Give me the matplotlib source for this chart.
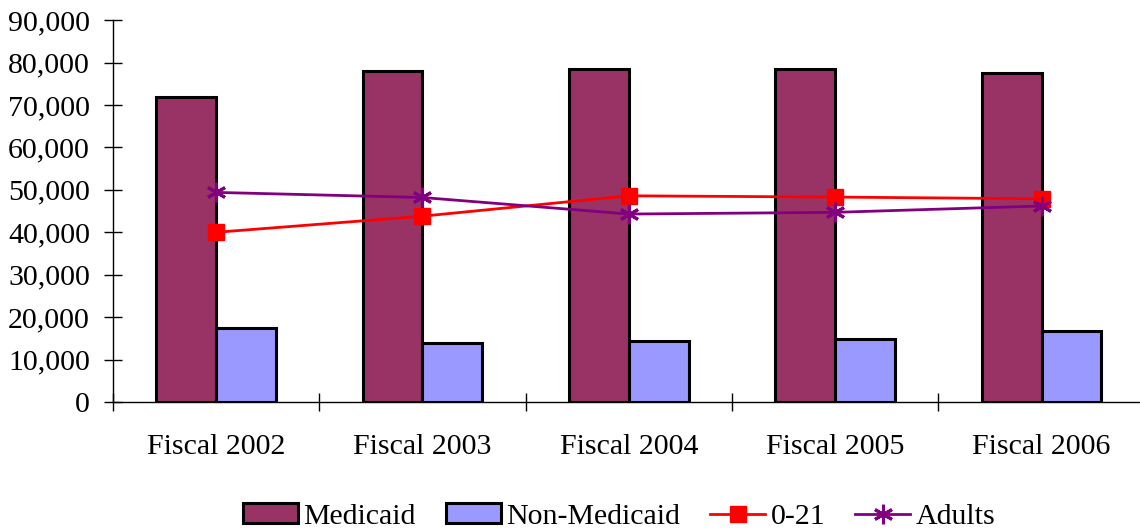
import matplotlib.pyplot as plt
import numpy as np

# enrollment counts by fiscal year
years = ["Fiscal 2002", "Fiscal 2003", "Fiscal 2004", "Fiscal 2005", "Fiscal 2006"]
medicaid = [72000, 78000, 78500, 78400, 77500]
non_medicaid = [17400, 13900, 14400, 14800, 16700]
age_0_21 = [40000, 43800, 48600, 48300, 47900]
adults = [49400, 48200, 44300, 44700, 46200]

plt.rcParams['font.family'] = ['Liberation Serif', 'DejaVu Serif']
plt.rcParams['font.size'] = 21.5

fig = plt.figure(figsize=(11.4, 5.31), dpi=100)
ax = fig.add_axes([0.0991, 0.243, 0.905, 0.719])

x = np.arange(len(years))
w = 0.29
b1 = ax.bar(x - w / 2, medicaid, w, color="#993366", edgecolor="black", linewidth=2.2, label="Medicaid")
b2 = ax.bar(x + w / 2, non_medicaid, w, color="#9999FF", edgecolor="black", linewidth=2.2, label="Non-Medicaid")
l1, = ax.plot(x, age_0_21, color="#FF0000", linewidth=2, marker="s", markersize=11, label="0-21")
l2, = ax.plot(x, adults, color="#800080", linewidth=2, marker=(6, 2, 0), markersize=14,
              markeredgewidth=2.2, label="Adults")

ax.set_xlim(-0.5, 4.5)
ax.set_ylim(0, 90000)
ax.set_yticks(np.arange(0, 90001, 10000))
ax.set_yticklabels([f"{v:,}" for v in range(0, 90001, 10000)])
ax.set_xticks(x)
ax.set_xticklabels(years)
ax.set_xticks(np.arange(-0.5, 4.6, 1), minor=True)

ax.spines['top'].set_visible(False)
ax.spines['right'].set_visible(False)
ax.spines['left'].set_linewidth(1)
ax.spines['bottom'].set_linewidth(1)

ax.tick_params(axis='y', direction='inout', length=13, width=1, pad=10)
ax.tick_params(axis='x', which='major', length=0, pad=23)
ax.tick_params(axis='x', which='minor', direction='inout', length=13, width=1)

fig.legend([b1, b2, l1, l2], ["Medicaid", "Non-Medicaid", "0-21", "Adults"],
           loc="center", bbox_to_anchor=(0.543, 0.027), ncol=4, frameon=False, fontsize=21.5,
           handlelength=1.85, handleheight=0.65, columnspacing=1.0, handletextpad=0.18,
           borderpad=0.2)

fig.savefig("out.png", dpi=100)
